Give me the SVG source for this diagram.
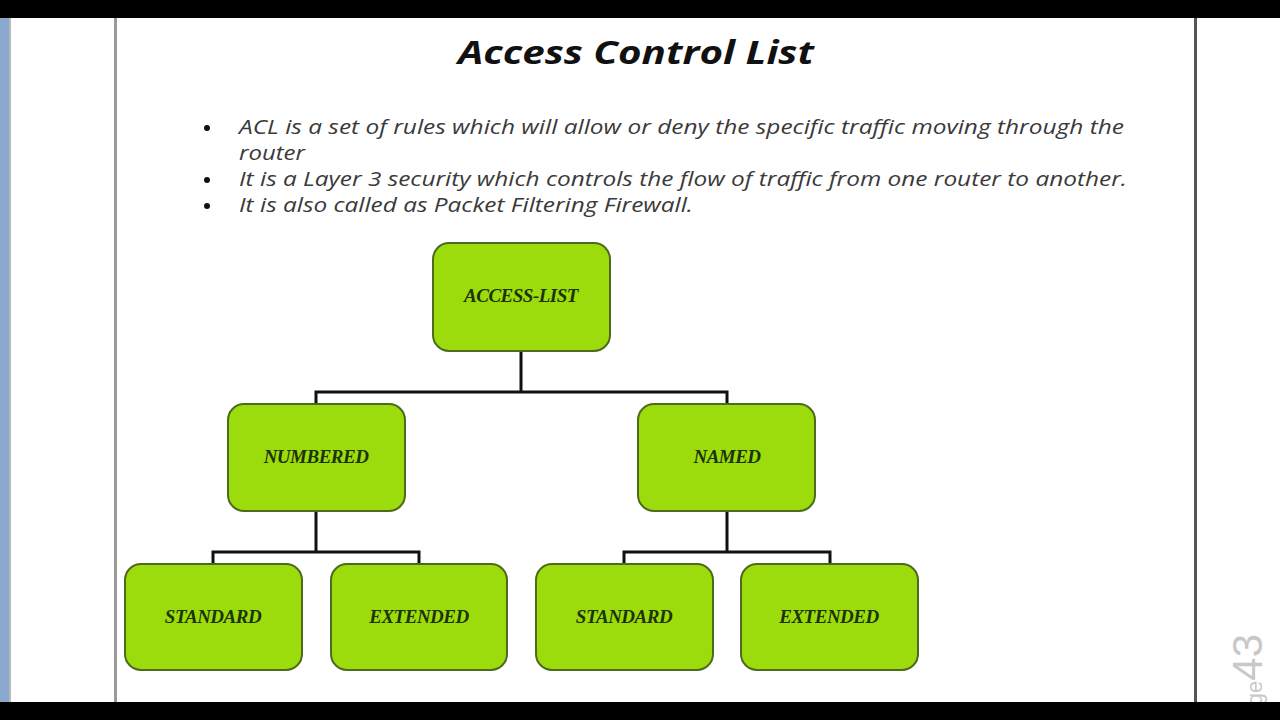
<svg xmlns="http://www.w3.org/2000/svg" width="1280" height="720" viewBox="0 0 1280 720">
<defs>
<style>
.node rect{fill:#9cdc0c;stroke:#4e6a1e;stroke-width:2}
.node text{font-family:"Liberation Serif",serif;font-style:italic;font-weight:bold;font-size:19px;fill:#1c3306;text-anchor:middle;letter-spacing:-0.5px}
.bul{font-family:"Open Sans","DejaVu Sans",sans-serif;font-style:italic;font-size:20px;fill:#3a3a3a}
.dot{fill:#111}
#connectors path{fill:none;stroke:#111;stroke-width:3}
</style>
</defs>
<rect width="1280" height="720" fill="#ffffff"/>
<rect x="0" y="18" width="9" height="684" fill="#8aa8d0"/>
<rect x="9" y="18" width="2" height="684" fill="#b8b8b8"/>
<rect x="114" y="18" width="3" height="684" fill="#9a9a9a"/>
<rect x="1194" y="18" width="3" height="684" fill="#555"/>
<text x="1262" y="634" transform="rotate(-90 1262 634)" font-family="'Liberation Sans',sans-serif" font-size="22" fill="#c8c8c8" text-anchor="end">Page<tspan font-size="42">43</tspan></text>
<rect x="0" y="0" width="1280" height="18" fill="#000"/>
<rect x="0" y="702" width="1280" height="18" fill="#000"/>
<text x="636" y="64" font-family="'Open Sans','DejaVu Sans',sans-serif" font-style="italic" font-weight="bold" font-size="33" text-anchor="middle" fill="#111" textLength="356" lengthAdjust="spacingAndGlyphs">Access Control List</text>
<circle class="dot" cx="207" cy="128" r="3"/>
<circle class="dot" cx="207" cy="180" r="3"/>
<circle class="dot" cx="207" cy="206" r="3"/>
<text class="bul" x="239" y="134" textLength="885" lengthAdjust="spacingAndGlyphs">ACL is a set of rules which will allow or deny the specific traffic moving through the</text>
<text class="bul" x="239" y="160" textLength="66" lengthAdjust="spacingAndGlyphs">router</text>
<text class="bul" x="239" y="186" textLength="888" lengthAdjust="spacingAndGlyphs">It is a Layer 3 security which controls the flow of traffic from one router to another.</text>
<text class="bul" x="239" y="212" textLength="454" lengthAdjust="spacingAndGlyphs">It is also called as Packet Filtering Firewall.</text>
<g id="connectors">
<path d="M521 351V392M316 404V392H727V404"/>
<path d="M316 511V552M213 564V552H419V564"/>
<path d="M727 511V552M624 564V552H830V564"/>
</g>
<g id="n-access" class="node"><rect x="433" y="243" width="177" height="108" rx="16"/><text x="521" y="302">ACCESS-LIST</text></g>
<g id="n-numbered" class="node"><rect x="228" y="404" width="177" height="107" rx="16"/><text x="316" y="463">NUMBERED</text></g>
<g id="n-named" class="node"><rect x="638" y="404" width="177" height="107" rx="16"/><text x="727" y="463">NAMED</text></g>
<g id="n-std1" class="node"><rect x="125" y="564" width="177" height="106" rx="16"/><text x="213" y="623">STANDARD</text></g>
<g id="n-ext1" class="node"><rect x="331" y="564" width="176" height="106" rx="16"/><text x="419" y="623">EXTENDED</text></g>
<g id="n-std2" class="node"><rect x="536" y="564" width="177" height="106" rx="16"/><text x="624" y="623">STANDARD</text></g>
<g id="n-ext2" class="node"><rect x="741" y="564" width="177" height="106" rx="16"/><text x="829" y="623">EXTENDED</text></g>
</svg>
